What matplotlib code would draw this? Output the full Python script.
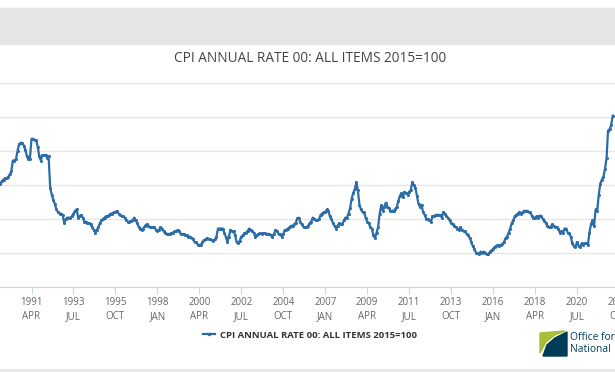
import numpy as np
import pandas as pd
import matplotlib
matplotlib.use("Agg")
import matplotlib.pyplot as plt
import matplotlib.patches as mpatches
import matplotlib.transforms as mtransforms
from matplotlib.lines import Line2D

plt.rcParams['font.family'] = ['Open Sans', 'DejaVu Sans']

# CPI annual rate, monthly, Jan 1989 onwards
cpi_rate = [
    4.9, 5.0, 5.0, 5.3, 5.3, 5.2, 5.1, 5.1, 5.3, 5.4, 5.5, 5.5,    # 1989
    5.6, 5.8, 6.0, 6.8, 6.8, 6.9, 7.5, 8.0, 8.1, 8.1, 7.9, 7.6,    # 1990
    7.1, 6.9, 6.9, 8.4, 8.4, 8.3, 8.3, 7.8, 7.1, 6.8, 7.2, 7.2,    # 1991
    7.2, 7.0, 7.1, 4.8, 4.3, 3.9, 3.6, 3.2, 3.0, 2.9, 2.9, 2.8,    # 1992
    2.2, 2.5, 2.6, 2.6, 2.6, 2.7, 2.9, 3.1, 3.2, 2.6, 2.7, 2.8,    # 1993
    2.6, 2.3, 2.3, 2.2, 2.2, 2.1, 1.9, 1.7, 1.5, 1.7, 1.9, 2.2,    # 1994
    2.4, 2.5, 2.6, 2.7, 2.7, 2.8, 2.9, 2.9, 3.0, 3.0, 3.1, 2.9,    # 1995
    2.8, 2.7, 2.7, 2.6, 2.4, 2.3, 2.3, 2.35, 2.4, 2.6, 2.4, 2.2,   # 1996
    1.9, 1.8, 1.7, 1.8, 2.0, 2.1, 2.0, 1.9, 1.9, 1.9, 1.9, 1.7,    # 1997
    1.6, 1.7, 1.9, 1.8, 1.6, 1.5, 1.4, 1.4, 1.4, 1.45, 1.5, 1.6,   # 1998
    1.6, 1.7, 1.6, 1.4, 1.4, 1.4, 1.3, 1.3, 1.2, 1.2, 1.1, 1.0,    # 1999
    0.8, 0.8, 0.6, 0.6, 0.6, 0.8, 0.95, 1.0, 1.1, 1.0, 1.0, 0.95,  # 2000
    0.9, 1.0, 1.2, 1.8, 1.8, 1.8, 1.8, 1.5, 1.2, 0.8, 1.2, 1.7,    # 2001
    1.6, 1.6, 1.3, 0.8, 0.7, 0.9, 1.2, 1.3, 1.45, 1.5, 1.6, 1.8,   # 2002
    1.7, 1.6, 1.5, 1.2, 1.3, 1.4, 1.45, 1.4, 1.45, 1.45, 1.4, 1.4, # 2003
    1.4, 1.3, 1.2, 1.4, 1.7, 1.6, 1.4, 1.4, 1.2, 1.4, 1.7, 1.7,    # 2004
    1.8, 1.9, 2.0, 2.0, 2.1, 2.2, 2.55, 2.6, 2.25, 2.1, 1.9, 1.9,  # 2005
    1.9, 2.0, 2.2, 2.3, 2.6, 2.5, 2.4, 2.4, 2.5, 2.8, 2.9, 3.0,    # 2006
    3.0, 3.2, 3.1, 2.7, 2.5, 2.2, 2.0, 1.8, 2.0, 2.2, 2.1, 2.1,    # 2007
    2.4, 2.6, 2.6, 2.9, 3.3, 4.0, 4.4, 4.7, 5.2, 4.6, 3.5, 3.2,    # 2008
    3.0, 3.0, 2.6, 2.3, 2.2, 1.9, 1.8, 1.3, 1.1, 1.5, 1.9, 2.9,    # 2009
    3.5, 3.1, 3.4, 3.7, 3.4, 3.3, 3.1, 3.1, 3.1, 3.2, 3.4, 3.8,    # 2010
    4.2, 4.4, 4.1, 4.5, 4.4, 4.3, 4.5, 4.6, 5.2, 5.0, 4.8, 4.2,    # 2011
    3.6, 3.4, 3.5, 3.0, 2.8, 2.5, 2.5, 2.4, 2.3, 2.7, 2.7, 2.8,    # 2012
    2.8, 2.8, 2.8, 2.6, 3.0, 2.9, 2.7, 2.6, 2.4, 2.2, 2.1, 2.0,    # 2013
    1.9, 1.8, 1.7, 1.9, 1.7, 1.6, 1.6, 1.4, 1.3, 1.1, 0.8, 0.5,    # 2014
    0.3, 0.0, 0.0, -0.1, 0.1, 0.0, 0.1, 0.0, -0.1, -0.1, 0.1, 0.2, # 2015
    0.3, 0.45, 0.5, 0.6, 0.5, 0.6, 0.65, 0.8, 1.1, 1.2, 1.5, 1.8,  # 2016
    2.2, 2.4, 2.7, 2.8, 2.9, 3.0, 2.9, 3.0, 3.1, 3.1, 3.1, 3.0,    # 2017
    3.0, 2.7, 2.6, 2.6, 2.7, 2.6, 2.75, 2.7, 2.5, 2.35, 2.2, 2.0,  # 2018
    1.9, 1.9, 2.1, 2.0, 1.9, 1.9, 1.8, 1.5, 1.6, 1.5, 1.8, 1.8,    # 2019
    1.5, 1.45, 1.2, 0.7, 0.5, 0.45, 0.8, 0.5, 0.45, 0.7, 0.6, 0.7, # 2020
    0.7, 0.6, 1.5, 2.1, 2.4, 2.0, 3.2, 3.1, 4.3, 5.1, 5.4, 5.6,    # 2021
    6.2, 7.0, 9.0, 9.1, 9.4, 10.1,                                 # 2022
]
months = pd.date_range("1989-01-01", periods=len(cpi_rate), freq="MS")

tick_dates = pd.date_range("1989-01-01", "2022-10-01", freq="27MS")
tick_labels = [f"{d.year}\n{d.strftime('%b').upper()}" for d in tick_dates]
y_ticks = [-2.5, 0, 2.5, 5, 7.5, 10, 12.5]

series_name = "CPI ANNUAL RATE 00: ALL ITEMS 2015=100"
blue = "#2b6ca9"
navy = "#003c57"

W, H = 615, 372
fig = plt.figure(figsize=(W / 100, H / 100), dpi=100)


def fx(px):
    return px / W


def fy(py):
    return 1 - py / H


# grey header band and bottom strip
fig.patches.append(mpatches.Rectangle((0, fy(44)), 1, 36 / H,
                                      transform=fig.transFigure, color="#e5e5e5", zorder=0))
fig.patches.append(mpatches.Rectangle((0, 0), 1, 3 / H,
                                      transform=fig.transFigure, color="#e8e8e8", zorder=0))

fig.text(fx(310), fy(59), series_name, ha="center", va="center",
         fontsize=9.8, color="#444444")

# plot area runs off both edges of the screenshot
ax = fig.add_axes([0, fy(287), 1, 204 / H])
ax.plot(months, cpi_rate, color=blue, lw=1.6, marker="o", ms=2.2, mew=0)

ax.set_ylim(-2.5, 12.5)
ax.set_yticks(y_ticks)
ax.set_yticklabels([])
ax.tick_params(axis="y", length=0)
ax.grid(axis="y", color="#e6e6e6", lw=1)
ax.set_axisbelow(True)
for s in ["left", "right", "top"]:
    ax.spines[s].set_visible(False)
ax.spines["bottom"].set_color("#ccd6eb")
ax.set_xticks(tick_dates)
ax.set_xticklabels([])
ax.tick_params(axis="x", length=5, color="#ccd6eb")

# x limits after the ticks, so set_xticks does not widen the view
px_per_day = 1.554 * 12 / 365.25
anchor = pd.Timestamp("1991-04-01")
ax.set_xlim(anchor - pd.Timedelta(days=31.5 / px_per_day),
            anchor + pd.Timedelta(days=(W - 31.5) / px_per_day))

# tick labels drawn as texts so the ones just past the edges show in part
trans = mtransforms.blended_transform_factory(ax.transData, ax.transAxes)
for d, lab in zip(tick_dates, tick_labels):
    ax.text(d, -10 / 204, lab, transform=trans, ha="center", va="top",
            fontsize=7, color="#666666", linespacing=1.35, clip_on=False)

handle = Line2D([], [], color=blue, lw=1.6, marker="o", ms=2.5, mew=0)
fig.legend([handle], [series_name], loc="center", bbox_to_anchor=(fx(310), fy(335)),
           frameon=False, handlelength=1.3, handletextpad=0.5,
           prop={"weight": "bold", "size": 6.8}, labelcolor="#333333")

# ONS logo (simplified)
fig.patches.append(mpatches.Polygon(
    [(fx(540), fy(353)), (fx(540), fy(333)), (fx(565), fy(331)),
     (fx(555), fy(335)), (fx(546), fy(342))],
    closed=True, transform=fig.transFigure, color="#a8bd3a"))
fig.patches.append(mpatches.Polygon(
    [(fx(543), fy(356)), (fx(547), fy(345)), (fx(555), fy(338)),
     (fx(567), fy(332)), (fx(567), fy(356))],
    closed=True, transform=fig.transFigure, color=navy))
fig.text(fx(570), fy(337), "Office for", fontsize=7.4, color=navy, va="center")
fig.text(fx(570), fy(349), "National", fontsize=7.4, color=navy, va="center")

fig.savefig("out.png", dpi=100)
